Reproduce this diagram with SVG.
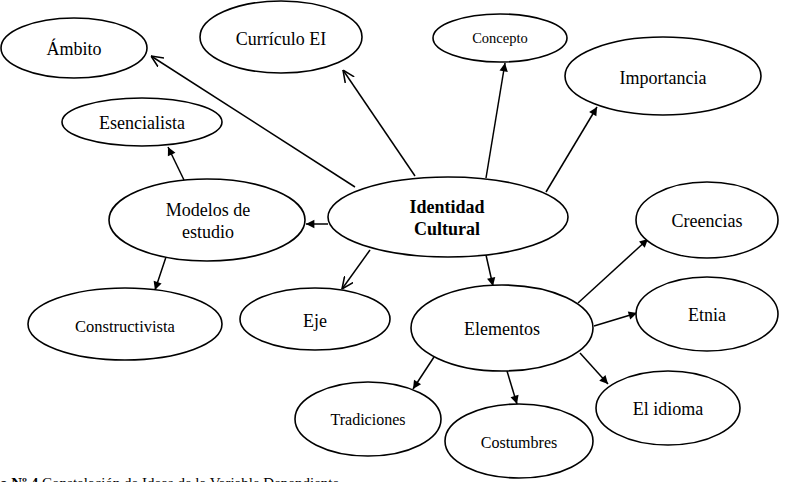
<svg xmlns="http://www.w3.org/2000/svg" width="786" height="482" viewBox="0 0 786 482">
<style>
.n{fill:#fff;stroke:#000;stroke-width:1.6}
.t{font-family:"Liberation Serif","Times New Roman",serif;font-size:18px;fill:#000;text-anchor:middle}
.c{stroke:#000;stroke-width:1.5;fill:none}
</style>
<defs>
<marker id="f" viewBox="0 0 10 10" refX="10" refY="5" markerWidth="7" markerHeight="7" markerUnits="userSpaceOnUse" orient="auto" overflow="visible">
<path d="M0,0 L10,5 L0,10 z" fill="#000" transform="scale(1.2) translate(-1.6,-0.8)"/>
</marker>
<marker id="o" viewBox="0 0 10 10" refX="10" refY="5" markerWidth="12" markerHeight="12" markerUnits="userSpaceOnUse" orient="auto">
<path d="M0,0.5 L10,5 L0,9.5" fill="none" stroke="#000" stroke-width="1.3"/>
</marker>
</defs>
<rect width="786" height="482" fill="#fff"/>
<g id="connectors">
<line class="c" x1="355" y1="187" x2="151" y2="56" marker-end="url(#o)"/>
<line class="c" x1="415" y1="176" x2="343" y2="70" marker-end="url(#o)"/>
<line class="c" x1="486" y1="178" x2="505" y2="63" marker-end="url(#f)"/>
<line class="c" x1="546" y1="192" x2="597" y2="107" marker-end="url(#f)"/>
<line class="c" x1="328" y1="224" x2="306" y2="224" marker-end="url(#f)"/>
<line class="c" x1="370" y1="250" x2="342" y2="289" marker-end="url(#o)"/>
<line class="c" x1="486" y1="255" x2="493" y2="286" marker-end="url(#f)"/>
<line class="c" x1="184" y1="180" x2="168" y2="147" marker-end="url(#f)"/>
<line class="c" x1="166" y1="257" x2="155" y2="290" marker-end="url(#f)"/>
<line class="c" x1="578" y1="303" x2="648" y2="239" marker-end="url(#f)"/>
<line class="c" x1="594" y1="326" x2="637" y2="313" marker-end="url(#f)"/>
<line class="c" x1="434" y1="357" x2="413" y2="389" marker-end="url(#f)"/>
<line class="c" x1="507" y1="371" x2="517" y2="404" marker-end="url(#f)"/>
<line class="c" x1="580" y1="353" x2="608" y2="384" marker-end="url(#f)"/>
</g>
<g id="ambito"><ellipse class="n" cx="74" cy="48" rx="73" ry="30"/><text class="t" x="74" y="55">Ámbito</text></g>
<g id="curriculo"><ellipse class="n" cx="281" cy="37" rx="81" ry="36"/><text class="t" x="281" y="45">Currículo EI</text></g>
<g id="concepto"><ellipse class="n" cx="500" cy="38" rx="67" ry="24"/><text class="t" x="500" y="43" style="font-size:14.5px">Concepto</text></g>
<g id="importancia"><ellipse class="n" cx="663" cy="76" rx="98" ry="39"/><text class="t" x="663" y="84">Importancia</text></g>
<g id="esencialista"><ellipse class="n" cx="142" cy="122" rx="80" ry="24"/><text class="t" x="142" y="129">Esencialista</text></g>
<g id="modelos"><ellipse class="n" cx="207" cy="220" rx="98" ry="41"/><text class="t" x="208" y="216">Modelos de</text><text class="t" x="208" y="238">estudio</text></g>
<g id="identidad"><ellipse class="n" cx="448" cy="217" rx="120" ry="40"/><text class="t" x="447" y="213" style="font-weight:bold">Identidad</text><text class="t" x="447" y="235" style="font-weight:bold">Cultural</text></g>
<g id="constructivista"><ellipse class="n" cx="125" cy="324" rx="97" ry="36"/><text class="t" x="125" y="332" style="font-size:16.5px">Constructivista</text></g>
<g id="eje"><ellipse class="n" cx="315" cy="319" rx="75" ry="31"/><text class="t" x="315" y="327">Eje</text></g>
<g id="elementos"><ellipse class="n" cx="502" cy="328" rx="91" ry="43"/><text class="t" x="502" y="335">Elementos</text></g>
<g id="creencias"><ellipse class="n" cx="707" cy="220" rx="71" ry="38"/><text class="t" x="707" y="227">Creencias</text></g>
<g id="etnia"><ellipse class="n" cx="707" cy="314" rx="71" ry="37"/><text class="t" x="707" y="321">Etnia</text></g>
<g id="tradiciones"><ellipse class="n" cx="368" cy="419" rx="73" ry="37"/><text class="t" x="368" y="425" style="font-size:16px">Tradiciones</text></g>
<g id="costumbres"><ellipse class="n" cx="519" cy="441" rx="74" ry="37"/><text class="t" x="519" y="448" style="font-size:16px">Costumbres</text></g>
<g id="idioma"><ellipse class="n" cx="668" cy="408" rx="72" ry="37"/><text class="t" x="668" y="415">El idioma</text></g>
<text x="0" y="488" style="font-family:'Liberation Serif','Times New Roman',serif;font-size:15px;fill:#000"><tspan font-weight="bold">o Nº 4 </tspan>Constelación de Ideas de la Variable Dependiente</text>
</svg>
